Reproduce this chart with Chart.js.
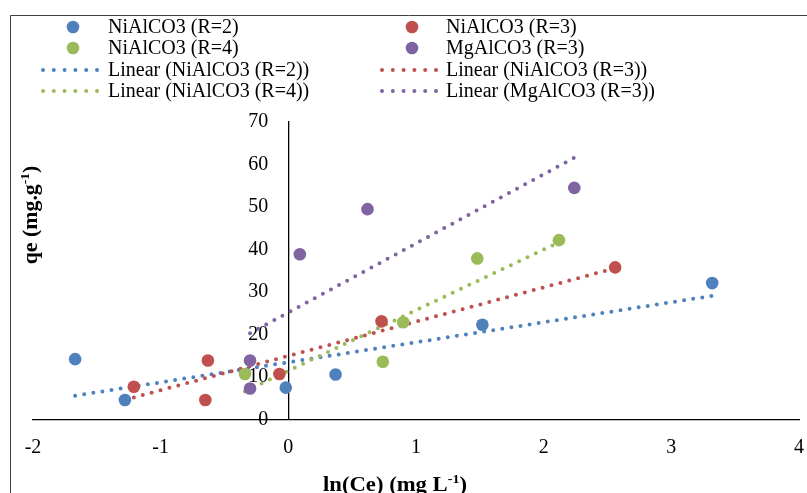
<!DOCTYPE html>
<html>
<head>
<meta charset="utf-8">
<script src="https://cdn.jsdelivr.net/npm/chart.js@4.4.1/dist/chart.umd.min.js"></script>
<style>
  html, body { margin: 0; padding: 0; background: #fff; }
  #wrap { position: relative; width: 807px; height: 493px; }
</style>
</head>
<body>
<div id="wrap"><canvas id="c" width="807" height="493"></canvas></div>
<script>
// --- DATA ---
const seriesNames = ['NiAlCO3 (R=2)', 'NiAlCO3 (R=3)', 'NiAlCO3 (R=4)', 'MgAlCO3 (R=3)'];
const seriesColors = ['#4F81BD', '#C0504D', '#9BBB59', '#8064A2'];

const xR2 = [-1.67, -1.28, -0.02, 0.37, 1.52, 3.32];
const yR2 = [14.2, 4.6, 7.5, 10.6, 22.3, 32.1];

const xR3 = [-1.21, -0.63, -0.65, -0.07, 0.73, 2.56];
const yR3 = [7.7, 13.9, 4.6, 10.7, 23.1, 35.8];

const xR4 = [-0.34, 0.74, 0.90, 1.48, 2.12];
const yR4 = [10.7, 13.6, 22.9, 37.9, 42.2];

const xMg = [-0.30, -0.30, 0.09, 0.62, 2.24];
const yMg = [13.9, 7.3, 38.9, 49.5, 54.5];

// linear trendline ends
const trendXR2 = [-1.67, 3.32], trendYR2 = [5.6, 29.1];
const trendXR3 = [-1.21, 2.56], trendYR3 = [5.2, 35.6];
const trendXR4 = [-0.34, 2.12], trendYR4 = [6.6, 41.7];
const trendXMg = [-0.30, 2.24], trendYMg = [20.3, 61.6];

const xTicks = [-2, -1, 0, 1, 2, 3, 4];
const yTicks = [0, 10, 20, 30, 40, 50, 60, 70];

const FONT = "'Liberation Serif', 'Times New Roman', serif";

const pts = (xs, ys) => xs.map((x, i) => ({ x, y: ys[i] }));
const pointSets = [pts(xR2, yR2), pts(xR3, yR3), pts(xR4, yR4), pts(xMg, yMg)];
const trendSets = [pts(trendXR2, trendYR2), pts(trendXR3, trendYR3), pts(trendXR4, trendYR4), pts(trendXMg, trendYMg)];

// later series sit on top (higher order = drawn first)
const datasets = [];
pointSets.forEach((d, i) => datasets.push({
    label: seriesNames[i], data: d, order: 10 - i,
    backgroundColor: seriesColors[i], borderWidth: 0, pointRadius: 6.3, pointHoverRadius: 6.3
}));
trendSets.forEach((d, i) => datasets.push({
    label: 'Linear (' + seriesNames[i] + ')', data: d, order: 20 - i, showLine: true, isTrend: true,
    borderColor: seriesColors[i], borderWidth: 4, borderDash: [0, 9.2], borderCapStyle: 'round',
    pointRadius: 0, pointHoverRadius: 0
}));

// --- frame, legend, axis titles ---
function drawSup(ctx, parts, x, y, sx) {
    // parts: [text, isSup], centred on x
    const big = 'bold 21px ' + FONT, small = 'bold 13px ' + FONT;
    let w = 0;
    parts.forEach(p => { ctx.font = p[1] ? small : big; w += ctx.measureText(p[0]).width; });
    ctx.save();
    ctx.translate(x, y); ctx.scale(sx, 1);
    let cx = -w / 2;
    ctx.textAlign = 'left'; ctx.textBaseline = 'alphabetic';
    parts.forEach(p => {
        ctx.font = p[1] ? small : big;
        ctx.fillText(p[0], cx, p[1] ? -8 : 0);
        cx += ctx.measureText(p[0]).width;
    });
    ctx.restore();
}

const decor = {
    id: 'decor',
    beforeDraw(chart) {
        const ctx = chart.ctx;
        ctx.save();
        ctx.strokeStyle = '#404040'; ctx.lineWidth = 1;
        ctx.beginPath();
        ctx.moveTo(10.5, 493); ctx.lineTo(10.5, 15.5); ctx.lineTo(807, 15.5);
        ctx.stroke();
        ctx.restore();
    },
    afterDraw(chart) {
        const ctx = chart.ctx;
        ctx.save();
        // legend: two columns, four rows
        const rowY = [27, 48, 70, 91];
        const colMarker = [73, 412], colText = [108, 446], colLine = [[43, 97], [382, 437]];
        chart.data.datasets.forEach((ds, i) => {
            const col = i % 2, row = Math.floor(i / 2), y = rowY[row];
            if (ds.isTrend) {
                ctx.strokeStyle = ds.borderColor; ctx.lineWidth = 4; ctx.lineCap = 'round';
                ctx.setLineDash([0, 10.8]);
                ctx.beginPath(); ctx.moveTo(colLine[col][0], y); ctx.lineTo(colLine[col][1] + 0.5, y); ctx.stroke();
                ctx.setLineDash([]);
            } else {
                ctx.fillStyle = ds.backgroundColor;
                ctx.beginPath(); ctx.arc(colMarker[col], y, 6.3, 0, Math.PI * 2); ctx.fill();
            }
            ctx.fillStyle = '#000'; ctx.font = '20px ' + FONT;
            ctx.textAlign = 'left'; ctx.textBaseline = 'middle';
            ctx.fillText(ds.label, colText[col], y + 1);
        });
        // axis titles
        ctx.fillStyle = '#000';
        drawSup(ctx, [['ln(Ce) (mg L', false], ['-1', true], [')', false]], 395, 491, 1.08);
        ctx.translate(37, 215); ctx.rotate(-Math.PI / 2);
        drawSup(ctx, [['qe (mg.g', false], ['-1', true], [')', false]], 0, 0, 1.04);
        ctx.restore();
    }
};

new Chart(document.getElementById('c'), {
    type: 'scatter',
    data: { datasets },
    plugins: [decor],
    options: {
        responsive: false, animation: false, devicePixelRatio: 1,
        layout: { padding: { left: 33, right: 8, top: 122, bottom: 17.5 } },
        plugins: { legend: { display: false }, tooltip: { enabled: false } },
        scales: {
            x: {
                type: 'linear', min: -2, max: 4,
                afterBuildTicks: s => { s.ticks = xTicks.map(v => ({ value: v })); },
                // tick padding is vertical here; don't let it eat the side margins
                afterFit: s => { s.paddingLeft = 0; s.paddingRight = 0; },
                grid: { display: false, drawTicks: false },
                border: { display: true, color: '#000', width: 1.3 },
                ticks: { color: '#000', font: { family: FONT, size: 20 }, padding: 16, maxRotation: 0 }
            },
            y: {
                type: 'linear', min: 0, max: 70, position: { x: 0 },
                afterBuildTicks: s => { s.ticks = yTicks.map(v => ({ value: v })); },
                grid: { display: false, drawTicks: false },
                border: { display: true, color: '#000', width: 1.3 },
                ticks: { color: '#000', font: { family: FONT, size: 20 }, callback: v => v + '\u2002\u2002' }
            }
        }
    }
});
</script>
</body>
</html>
